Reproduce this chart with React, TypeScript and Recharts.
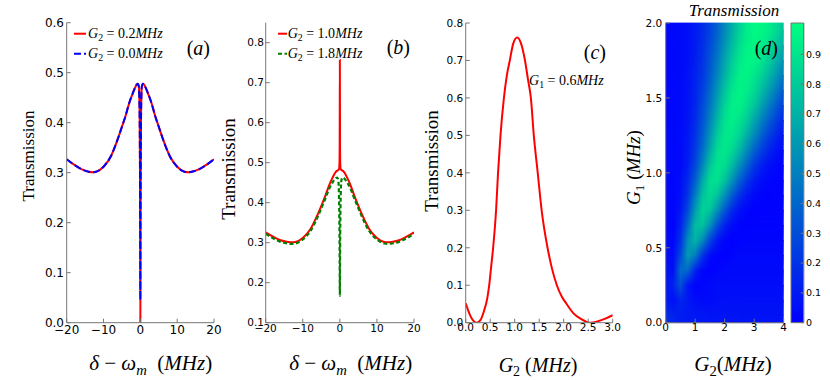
import React from 'react';
import { LineChart, ComposedChart, Line, XAxis, YAxis, ReferenceArea, Legend, Scatter } from 'recharts';

// ---------- data: panels (a) and (b) ----------
const detuning = [-20, -18, -16, -14, -13, -12, -10, -8, -6, -5, -4, -3, -2, -1.5, -1, -0.7, -0.4, -0.2, -0.1, -0.05, 0, 0.05, 0.1, 0.2, 0.4, 0.7, 1, 1.5, 2, 3, 4, 5, 6, 8, 10, 12, 13, 14, 16, 18, 20];
const transA_G02 = [0.327, 0.316, 0.307, 0.302, 0.301, 0.302, 0.312, 0.333, 0.37, 0.392, 0.414, 0.44, 0.46, 0.469, 0.476, 0.478, 0.472, 0.42, 0.3, 0.18, 0.0, 0.18, 0.3, 0.42, 0.472, 0.478, 0.476, 0.469, 0.46, 0.44, 0.414, 0.392, 0.37, 0.333, 0.312, 0.302, 0.301, 0.302, 0.307, 0.316, 0.327];
const transA_G00 = [0.327, 0.316, 0.307, 0.302, 0.301, 0.302, 0.312, 0.333, 0.37, 0.392, 0.414, 0.44, 0.46, 0.469, 0.476, 0.478, 0.472, 0.42, 0.31, 0.2, 0.045, 0.2, 0.31, 0.42, 0.472, 0.478, 0.476, 0.469, 0.46, 0.44, 0.414, 0.392, 0.37, 0.333, 0.312, 0.302, 0.301, 0.302, 0.307, 0.316, 0.327];
const transB_G10 = [0.326, 0.315, 0.306, 0.302, 0.301, 0.302, 0.312, 0.333, 0.37, 0.392, 0.415, 0.441, 0.462, 0.471, 0.478, 0.48, 0.482, 0.485, 0.5, 0.54, 0.757, 0.54, 0.5, 0.485, 0.482, 0.48, 0.478, 0.471, 0.462, 0.441, 0.415, 0.392, 0.37, 0.333, 0.312, 0.302, 0.301, 0.302, 0.306, 0.315, 0.326];
const transB_G18 = [0.322, 0.311, 0.302, 0.298, 0.297, 0.298, 0.308, 0.328, 0.364, 0.386, 0.408, 0.432, 0.45, 0.457, 0.462, 0.463, 0.455, 0.4, 0.32, 0.25, 0.167, 0.25, 0.32, 0.4, 0.455, 0.463, 0.462, 0.457, 0.45, 0.432, 0.408, 0.386, 0.364, 0.328, 0.308, 0.298, 0.297, 0.298, 0.302, 0.311, 0.322];

// ---------- data: panel (c) ----------
const g2C = [0, 0.05, 0.1, 0.15, 0.22, 0.3, 0.37, 0.44, 0.48, 0.52, 0.56, 0.62, 0.66, 0.71, 0.78, 0.84, 0.9, 0.97, 1.05, 1.13, 1.21, 1.27, 1.33, 1.39, 1.47, 1.55, 1.67, 1.76, 1.86, 1.96, 2.06, 2.2, 2.35, 2.54, 2.7, 2.85, 3.0];
const transC = [0.052, 0.033, 0.017, 0.006, 0.0, 0.007, 0.03, 0.065, 0.1, 0.15, 0.2, 0.3, 0.4, 0.5, 0.6, 0.66, 0.7, 0.745, 0.761, 0.745, 0.7, 0.65, 0.6, 0.5, 0.4, 0.3, 0.2, 0.145, 0.1, 0.07, 0.05, 0.025, 0.01, 0.0, 0.004, 0.011, 0.02];

// ---------- data: panel (d) heat map (rows: G1 values, columns: G2 values) ----------
const g2Grid = [0, 0.25, 0.5, 0.75, 1, 1.25, 1.5, 1.75, 2, 2.25, 2.5, 2.75, 3, 3.25, 3.5, 3.75, 4];
const g1Rows = [0.05, 0.15, 0.25, 0.35, 0.45, 0.55, 0.65, 0.75, 0.85, 0.95, 1.05, 1.15, 1.25, 1.35, 1.45, 1.55, 1.65, 1.75, 1.85, 1.95];
const heatRows = [
  [0.18, 0.14, 0.11, 0.10, 0.09, 0.09, 0.08, 0.08, 0.08, 0.08, 0.08, 0.07, 0.07, 0.07, 0.07, 0.07, 0.07],
  [0.12, 0.05, 0.14, 0.10, 0.05, 0.04, 0.04, 0.05, 0.06, 0.06, 0.06, 0.06, 0.06, 0.06, 0.06, 0.06, 0.06],
  [0.08, 0.13, 0.32, 0.07, 0.01, 0.02, 0.04, 0.05, 0.05, 0.05, 0.05, 0.05, 0.05, 0.05, 0.05, 0.05, 0.05],
  [0.07, 0.06, 0.42, 0.41, 0.13, 0.02, 0.00, 0.02, 0.03, 0.04, 0.04, 0.04, 0.04, 0.04, 0.04, 0.04, 0.04],
  [0.06, 0.04, 0.28, 0.62, 0.49, 0.21, 0.04, 0.01, 0.00, 0.02, 0.03, 0.03, 0.03, 0.03, 0.03, 0.03, 0.03],
  [0.05, 0.02, 0.19, 0.56, 0.72, 0.54, 0.27, 0.09, 0.02, 0.00, 0.01, 0.02, 0.02, 0.02, 0.02, 0.02, 0.02],
  [0.05, 0.00, 0.13, 0.42, 0.74, 0.77, 0.57, 0.31, 0.13, 0.04, 0.01, 0.00, 0.01, 0.01, 0.01, 0.01, 0.01],
  [0.04, 0.02, 0.09, 0.29, 0.62, 0.83, 0.78, 0.57, 0.34, 0.16, 0.06, 0.02, 0.00, 0.01, 0.01, 0.01, 0.01],
  [0.04, 0.02, 0.06, 0.21, 0.49, 0.77, 0.86, 0.77, 0.57, 0.36, 0.19, 0.09, 0.03, 0.01, 0.00, 0.01, 0.01],
  [0.04, 0.02, 0.05, 0.16, 0.37, 0.66, 0.87, 0.89, 0.77, 0.58, 0.38, 0.22, 0.11, 0.05, 0.02, 0.01, 0.00],
  [0.04, 0.03, 0.04, 0.12, 0.28, 0.53, 0.78, 0.91, 0.87, 0.74, 0.56, 0.39, 0.23, 0.12, 0.06, 0.03, 0.01],
  [0.04, 0.03, 0.04, 0.10, 0.23, 0.43, 0.67, 0.87, 0.92, 0.85, 0.72, 0.55, 0.38, 0.25, 0.14, 0.07, 0.04],
  [0.04, 0.03, 0.04, 0.09, 0.20, 0.37, 0.59, 0.80, 0.92, 0.91, 0.83, 0.69, 0.54, 0.38, 0.25, 0.15, 0.08],
  [0.03, 0.03, 0.04, 0.08, 0.17, 0.32, 0.52, 0.73, 0.89, 0.94, 0.90, 0.80, 0.66, 0.51, 0.37, 0.25, 0.15],
  [0.03, 0.03, 0.04, 0.07, 0.15, 0.29, 0.46, 0.66, 0.84, 0.94, 0.95, 0.88, 0.78, 0.64, 0.50, 0.36, 0.25],
  [0.03, 0.03, 0.04, 0.07, 0.14, 0.25, 0.41, 0.60, 0.77, 0.91, 0.96, 0.93, 0.86, 0.75, 0.62, 0.49, 0.36],
  [0.03, 0.03, 0.04, 0.07, 0.13, 0.22, 0.36, 0.53, 0.70, 0.85, 0.95, 0.96, 0.91, 0.83, 0.72, 0.60, 0.47],
  [0.03, 0.03, 0.04, 0.06, 0.12, 0.20, 0.33, 0.48, 0.65, 0.80, 0.92, 0.97, 0.96, 0.90, 0.81, 0.70, 0.58],
  [0.03, 0.03, 0.04, 0.06, 0.11, 0.18, 0.29, 0.43, 0.59, 0.74, 0.87, 0.95, 0.97, 0.94, 0.87, 0.79, 0.68],
  [0.03, 0.03, 0.04, 0.06, 0.10, 0.17, 0.26, 0.39, 0.54, 0.69, 0.83, 0.93, 0.98, 0.97, 0.93, 0.86, 0.77],
];

// ---------- ticks ----------
const xTicksDetuning = [-20, -10, 0, 10, 20];
const yTicksA = [0, 0.1, 0.2, 0.3, 0.4, 0.5, 0.6];
const yTicksB = [0.1, 0.2, 0.3, 0.4, 0.5, 0.6, 0.7, 0.8];
const xTicksC = [0, 0.5, 1, 1.5, 2, 2.5, 3];
const yTicksC = [0, 0.1, 0.2, 0.3, 0.4, 0.5, 0.6, 0.7, 0.8];
const xTicksD = [0, 1, 2, 3, 4];
const yTicksD = [0, 0.5, 1, 1.5, 2];
const cbTicks = [0, 0.1, 0.2, 0.3, 0.4, 0.5, 0.6, 0.7, 0.8, 0.9];
const cbStops = [0, 0.5, 1];
const colorMax = 1.005;
const g1Domain = [0, 2];
const g2Domain = [0, 4];

// ---------- styling ----------
const SERIF = "'Liberation Serif', 'DejaVu Serif', 'Times New Roman', serif";
const SANS = "'DejaVu Sans', 'Liberation Sans', sans-serif";
const FRAME = '#777';

const winter = (v: number) => {
  const t = Math.max(0, Math.min(1, v / colorMax));
  return `rgb(0,${Math.round(255 * t)},${Math.round(255 * (1 - t / 2))})`;
};
const fmtSigned = (v: number) => (v < 0 ? `\u2212${Math.abs(v)}` : `${v}`);
const fmt1 = (v: number) => v.toFixed(1);
const fmtCb = (v: number) => (v === 0 ? '0' : v.toFixed(1));

type Part = { t: string; i?: boolean; sub?: boolean };

function MathText({ x, y, parts, size, anchor = 'start', rotate = false }: { x: number; y: number; parts: Part[]; size: number; anchor?: string; rotate?: boolean }) {
  let shifted = false;
  const nodes = parts.map((p, k) => {
    let dy: number | undefined;
    if (p.sub && !shifted) { dy = size * 0.22; shifted = true; }
    else if (!p.sub && shifted) { dy = -size * 0.22; shifted = false; }
    return (
      <tspan key={k} dy={dy} fontStyle={p.i ? 'italic' : 'normal'} fontSize={p.sub ? size * 0.7 : size}>{p.t}</tspan>
    );
  });
  return (
    <text x={x} y={y} fontFamily={SERIF} fontSize={size} fill="#000" textAnchor={anchor as any}
      style={{ whiteSpace: 'pre' }} transform={rotate ? `rotate(-90 ${x} ${y})` : undefined}>
      {nodes}
    </text>
  );
}

const deltaParts: Part[] = [{ t: 'δ', i: true }, { t: ' − ' }, { t: 'ω', i: true }, { t: 'm', i: true, sub: true }, { t: '  (' }, { t: 'MHz', i: true }, { t: ')' }];
const transParts: Part[] = [{ t: 'Transmission' }];
const panelParts = (c: string): Part[] => [{ t: '(' }, { t: c, i: true }, { t: ')' }];

function makeLegend(lineLen: number, textX: number, order: string[], dashes: Record<string, string | undefined>) {
  return (props: any) => {
    const payload = (props.payload || [])
      .filter((e: any) => order.indexOf(String(e.dataKey)) >= 0 && e.type !== 'none')
      .slice()
      .sort((a: any, b: any) => order.indexOf(String(a.dataKey)) - order.indexOf(String(b.dataKey)));
    return (
      <svg width={140} height={46} style={{ display: 'block', overflow: 'visible' }}>
        {payload.map((entry: any, k: number) => {
          const y = 11.7 + k * 20;
          const m = /^G(\d) = (.*)MHz$/.exec(String(entry.value)) || ['', '2', ''];
          return (
            <g key={k}>
              <line x1={4} x2={4 + lineLen} y1={y} y2={y} stroke={entry.color} strokeWidth={2}
                strokeDasharray={dashes[String(entry.dataKey)]} />
              <MathText x={textX} y={y + 4.5} size={14}
                parts={[{ t: 'G', i: true }, { t: m[1], sub: true }, { t: ' = ' + m[2] }, { t: 'MHz', i: true }]} />
            </g>
          );
        })}
      </svg>
    );
  };
}

function axesFor(o: any) {
  const tickStyle = { fill: '#000', fontSize: o.fontSize, fontFamily: SANS };
  return [
    <XAxis key="xb" dataKey={o.xKey} type="number" domain={o.xDomain} ticks={o.xTicks} interval={0}
      tickFormatter={o.xFmt} height={30} stroke={FRAME} tickSize={-4} tickMargin={o.xTickMargin}
      tick={tickStyle} allowDataOverflow label={o.xLabel} />,
    <XAxis key="xt" xAxisId="top" orientation="top" dataKey={o.xKey} type="number" domain={o.xDomain}
      ticks={o.xTicks} interval={0} height={0} stroke={FRAME} tickSize={-4} tick={false} allowDataOverflow />,
    <YAxis key="yl" dataKey={o.yKey} type="number" domain={o.yDomain} ticks={o.yTicks} interval={0}
      tickFormatter={o.yFmt} width={o.yWidth} stroke={FRAME} tickSize={-4} tickMargin={o.yTickMargin}
      tick={tickStyle} allowDataOverflow label={o.yLabel} />,
    <YAxis key="yr" yAxisId="right" orientation="right" dataKey={o.yKey} type="number" domain={o.yDomain}
      ticks={o.yTicks} interval={0} width={0} stroke={FRAME} tickSize={-4} tick={false} allowDataOverflow />,
  ];
}

function PanelA() {
  const data = detuning.map((x, k) => ({ x, red: transA_G02[k], blue: transA_G00[k] }));
  return (
    <div style={{ position: 'absolute', left: 0, top: 0 }}>
      <LineChart width={232} height={380} data={data} margin={{ top: 22.7, right: 18, bottom: 27.3, left: 16.7 }}>
        {axesFor({
          xKey: 'x', xDomain: [-20, 20], xTicks: xTicksDetuning, xFmt: fmtSigned, xTickMargin: 6.3,
          yDomain: [0, 0.6], yTicks: yTicksA, yFmt: fmt1, yWidth: 50, yTickMargin: 6.7, fontSize: 12,
          xLabel: () => (
            <g>
              <MathText x={150.7} y={370} size={21} anchor="middle" parts={deltaParts} />
              <MathText x={210} y={54.5} size={20} anchor="end" parts={panelParts('a')} />
            </g>
          ),
          yLabel: () => <MathText x={34} y={156} size={17} anchor="middle" rotate parts={transParts} />,
        })}
        <Legend layout="vertical" align="center" verticalAlign="middle"
          wrapperStyle={{ left: 70, top: 22, width: 140, height: 46 }}
          content={makeLegend(12, 18, ['red', 'blue'], { red: undefined, blue: '7 3' })} />
        <Line dataKey="red" name="G2 = 0.2MHz" type="monotone" stroke="#ff0000" strokeWidth={2} dot={false} activeDot={false} isAnimationActive={false} />
        <Line dataKey="blue" name="G2 = 0.0MHz" type="monotone" stroke="#0000ff" strokeWidth={2} strokeDasharray="7 3" dot={false} activeDot={false} isAnimationActive={false} />
        <Line xAxisId="top" yAxisId="right" dataKey="red" stroke="none" dot={false} activeDot={false} legendType="none" isAnimationActive={false} />
      </LineChart>
    </div>
  );
}

function PanelB() {
  const data = detuning.map((x, k) => ({ x, red: transB_G10[k], green: transB_G18[k] }));
  return (
    <div style={{ position: 'absolute', left: 215, top: 0 }}>
      <LineChart width={215} height={380} data={data} margin={{ top: 22.7, right: 16, bottom: 27.3, left: 5.7 }}>
        {axesFor({
          xKey: 'x', xDomain: [-20, 20], xTicks: xTicksDetuning, xFmt: fmtSigned, xTickMargin: 6,
          yDomain: [0.1, 0.85], yTicks: yTicksB, yFmt: fmt1, yWidth: 45, yTickMargin: 5.7, fontSize: 10.5,
          xLabel: () => (
            <g>
              <MathText x={135.7} y={370} size={21} anchor="middle" parts={deltaParts} />
              <MathText x={195} y={54} size={20} anchor="end" parts={panelParts('b')} />
            </g>
          ),
          yLabel: () => <MathText x={19.5} y={169} size={19} anchor="middle" rotate parts={transParts} />,
        })}
        <Legend layout="vertical" align="center" verticalAlign="middle"
          wrapperStyle={{ left: 59.3, top: 21.6, width: 140, height: 46 }}
          content={makeLegend(9, 13.7, ['red', 'green'], { red: undefined, green: '4 2.5' })} />
        <Line dataKey="red" name="G2 = 1.0MHz" type="monotone" stroke="#ff0000" strokeWidth={2} dot={false} activeDot={false} isAnimationActive={false} />
        <Line dataKey="green" name="G2 = 1.8MHz" type="monotone" stroke="#008000" strokeWidth={2.2} strokeDasharray="4 2.5" dot={false} activeDot={false} isAnimationActive={false} />
        <Line xAxisId="top" yAxisId="right" dataKey="red" stroke="none" dot={false} activeDot={false} legendType="none" isAnimationActive={false} />
      </LineChart>
    </div>
  );
}

function PanelC() {
  const data = g2C.map((x, k) => ({ x, t: transC[k] }));
  return (
    <div style={{ position: 'absolute', left: 415, top: 0 }}>
      <LineChart width={215} height={380} data={data} margin={{ top: 23, right: 17.3, bottom: 27.3, left: 5.7 }}>
        {axesFor({
          xKey: 'x', xDomain: [0, 3], xTicks: xTicksC, xFmt: fmt1, xTickMargin: 5,
          yDomain: [0, 0.8], yTicks: yTicksC, yFmt: fmt1, yWidth: 45, yTickMargin: 6.4, fontSize: 10.5,
          xLabel: () => (
            <g>
              <MathText x={123} y={372} size={20} anchor="middle"
                parts={[{ t: 'G', i: true }, { t: '2', sub: true }, { t: ' (' }, { t: 'MHz', i: true }, { t: ')' }]} />
              <MathText x={191} y={59} size={20} anchor="end" parts={panelParts('c')} />
              <MathText x={114} y={85} size={14}
                parts={[{ t: 'G', i: true }, { t: '1', sub: true }, { t: ' = 0.6' }, { t: 'MHz', i: true }]} />
            </g>
          ),
          yLabel: () => <MathText x={23} y={161} size={19} anchor="middle" rotate parts={transParts} />,
        })}
        <Line dataKey="t" name="G1 = 0.6MHz" type="monotone" stroke="#ff0000" strokeWidth={2} dot={false} activeDot={false} isAnimationActive={false} />
        <Line xAxisId="top" yAxisId="right" dataKey="t" stroke="none" dot={false} activeDot={false} legendType="none" isAnimationActive={false} />
      </LineChart>
    </div>
  );
}

// band i spans from g1Rows[lo] to g1Rows[hi]; the upper row fades in with a vertical mask (bilinear blend)
function heatBands() {
  const bands: { y1: number; y2: number; lo: number; hi: number }[] = [];
  bands.push({ y1: g1Domain[0], y2: g1Rows[0], lo: 0, hi: 0 });
  for (let i = 0; i < g1Rows.length - 1; i++) bands.push({ y1: g1Rows[i], y2: g1Rows[i + 1], lo: i, hi: i + 1 });
  bands.push({ y1: g1Rows[g1Rows.length - 1], y2: g1Domain[1], lo: g1Rows.length - 1, hi: g1Rows.length - 1 });
  return bands;
}

function PanelD() {
  const anchors = g1Rows.map((g1) => ({ g2: g2Grid[0], g1 }));
  const span = g2Grid[g2Grid.length - 1] - g2Grid[0];
  return (
    <div style={{ position: 'absolute', left: 615, top: 0 }}>
      <ComposedChart width={180} height={380} margin={{ top: 23, right: 11.3, bottom: 27.3, left: 5.7 }}>
        <defs>
          {heatRows.map((row, i) => (
            <linearGradient key={i} id={`hm${i}`} x1="0" y1="0" x2="1" y2="0">
              {row.map((v, j) => (
                <stop key={j} offset={(g2Grid[j] - g2Grid[0]) / span} stopColor={winter(v)} />
              ))}
            </linearGradient>
          ))}
          <linearGradient id="vfadeGrad" x1="0" y1="0" x2="0" y2="1">
            <stop offset={0} stopColor="#fff" />
            <stop offset={1} stopColor="#000" />
          </linearGradient>
          <mask id="vfade" maskUnits="objectBoundingBox" maskContentUnits="objectBoundingBox" x="0" y="0" width="1" height="1">
            <rect x={0} y={0} width={1} height={1} fill="url(#vfadeGrad)" />
          </mask>
        </defs>
        {heatBands().map((b, i) => (
          <ReferenceArea key={`b${i}`} x1={g2Domain[0]} x2={g2Domain[1]} y1={b.y1} y2={b.y2} ifOverflow="visible"
            shape={(p: any) => (
              <g>
                <rect x={p.x} y={p.y - 0.4} width={p.width} height={p.height + 0.8} fill={`url(#hm${b.lo})`} />
                {b.hi !== b.lo && (
                  <rect x={p.x} y={p.y - 0.4} width={p.width} height={p.height + 0.8} fill={`url(#hm${b.hi})`} mask="url(#vfade)" />
                )}
              </g>
            )} />
        ))}
        {axesFor({
          xKey: 'g2', xDomain: g2Domain, xTicks: xTicksD, xFmt: (v: number) => `${v}`, xTickMargin: 5,
          yKey: 'g1', yDomain: g1Domain, yTicks: yTicksD, yFmt: fmt1, yWidth: 45, yTickMargin: 7.4, fontSize: 10.5,
          xLabel: () => (
            <g>
              <MathText x={118} y={371} size={21} anchor="middle"
                parts={[{ t: 'G', i: true }, { t: '2', sub: true }, { t: '(' }, { t: 'MHz', i: true }, { t: ')' }]} />
              <MathText x={163} y={54.5} size={20} anchor="end" parts={panelParts('d')} />
              <MathText x={119} y={16} size={17} anchor="middle" parts={[{ t: 'Transmission', i: true }]} />
            </g>
          ),
          yLabel: () => <MathText x={25} y={167.5} size={19} anchor="middle" rotate
            parts={[{ t: 'G', i: true }, { t: '1', sub: true }, { t: ' (' }, { t: 'MHz', i: true }, { t: ')' }]} />,
        })}
        <Scatter data={anchors} fill="none" shape={() => <g />} legendType="none" isAnimationActive={false} />
        <Scatter data={anchors} xAxisId="top" yAxisId="right" fill="none" shape={() => <g />} legendType="none" isAnimationActive={false} />
      </ComposedChart>
    </div>
  );
}

function ColorBar() {
  const anchors = cbTicks.map((v) => ({ x: 0, v }));
  const tickStyle = { fill: '#000', fontSize: 9.5, fontFamily: SANS };
  return (
    <div style={{ position: 'absolute', left: 760, top: 0 }}>
      <ComposedChart width={70} height={380} margin={{ top: 23, right: 1.3, bottom: 57.3, left: 31 }}>
        <defs>
          <linearGradient id="cbGrad" x1="0" y1="1" x2="0" y2="0">
            {cbStops.map((v, k) => (
              <stop key={k} offset={v} stopColor={winter(v * colorMax)} />
            ))}
          </linearGradient>
        </defs>
        <XAxis dataKey="x" type="number" domain={[0, 1]} hide />
        <ReferenceArea x1={0} x2={1} y1={0} y2={colorMax} fill="url(#cbGrad)" fillOpacity={1} stroke={FRAME} strokeWidth={1} ifOverflow="visible" />
        <YAxis dataKey="v" type="number" domain={[0, colorMax]} ticks={cbTicks} interval={0} width={0}
          stroke={FRAME} tickSize={-3} tick={false} allowDataOverflow />
        <YAxis yAxisId="right" orientation="right" dataKey="v" type="number" domain={[0, colorMax]} ticks={cbTicks}
          interval={0} width={25} stroke={FRAME} tickSize={-3} tickMargin={5.3} tick={tickStyle}
          tickFormatter={fmtCb} allowDataOverflow />
        <Scatter data={anchors} fill="none" shape={() => <g />} legendType="none" isAnimationActive={false} />
        <Scatter data={anchors} yAxisId="right" fill="none" shape={() => <g />} legendType="none" isAnimationActive={false} />
      </ComposedChart>
    </div>
  );
}

export default function App() {
  return (
    <div style={{ position: 'fixed', left: 0, top: 0, width: 830, height: 380, background: '#fff', overflow: 'hidden' }}>
      <PanelA />
      <PanelB />
      <PanelC />
      <PanelD />
      <ColorBar />
    </div>
  );
}
